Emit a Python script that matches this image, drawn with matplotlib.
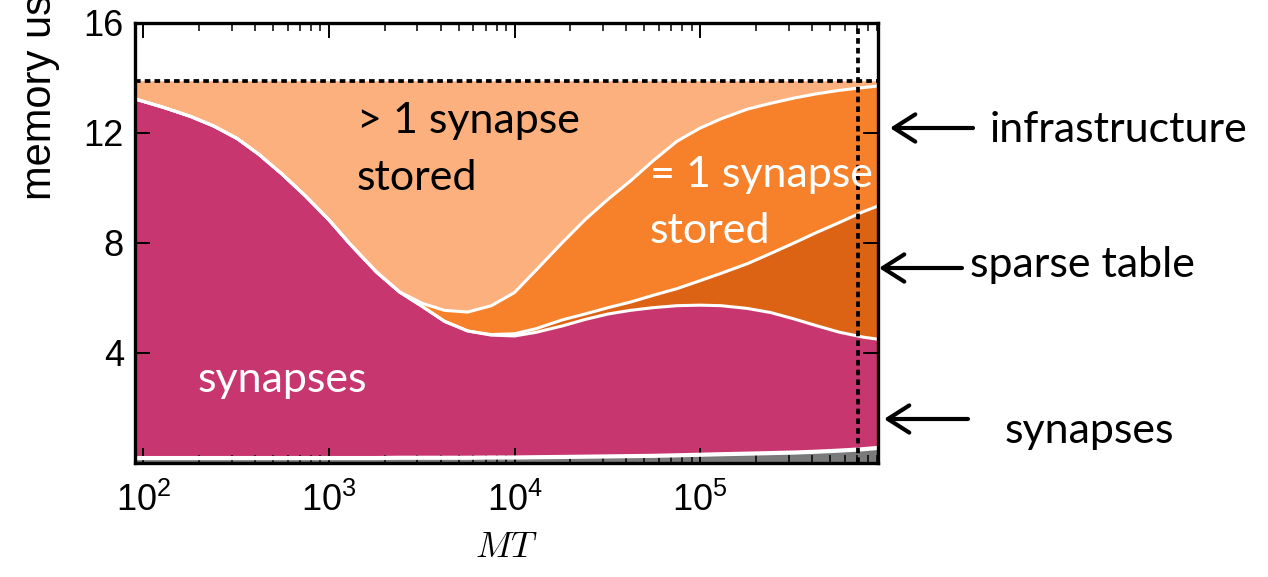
import numpy as np
import matplotlib
matplotlib.use("Agg")
import matplotlib.pyplot as plt
from matplotlib.patches import FancyArrowPatch

plt.rcParams.update({
    "font.family": ["Liberation Sans", "DejaVu Sans"],
    "font.size": 26,
    "mathtext.fontset": "cm",
})

# MT grid and cumulative layer tops (memory usage)
mt = [90, 100, 130, 180, 240, 320, 420, 560, 750, 1000, 1300, 1800, 2400, 3200, 4200, 5600,
      7500, 1e4, 1.3e4, 1.8e4, 2.4e4, 3.2e4, 4.2e4, 5.6e4, 7.5e4, 1e5, 1.3e5, 1.8e5, 2.4e5,
      3.2e5, 4.2e5, 5.6e5, 7.5e5, 9.1e5]
infra_top = [0.18, 0.18, 0.18, 0.18, 0.18, 0.18, 0.18, 0.18, 0.18, 0.18, 0.18, 0.18, 0.19, 0.19,
             0.19, 0.19, 0.2, 0.2, 0.21, 0.22, 0.23, 0.24, 0.25, 0.26, 0.28, 0.3, 0.32, 0.34,
             0.36, 0.38, 0.41, 0.45, 0.5, 0.55]
synapse_top = [13.24, 13.15, 12.92, 12.6, 12.25, 11.8, 11.22, 10.5, 9.7, 8.84, 7.96, 6.95,
               6.22, 5.68, 5.15, 4.8, 4.65, 4.62, 4.75, 4.98, 5.22, 5.42, 5.55, 5.65, 5.72,
               5.74, 5.72, 5.62, 5.47, 5.24, 5.0, 4.76, 4.58, 4.5]
sparse_top = [13.24, 13.15, 12.92, 12.6, 12.25, 11.8, 11.22, 10.5, 9.7, 8.84, 7.96, 6.95,
              6.22, 5.68, 5.15, 4.8, 4.67, 4.7, 4.88, 5.2, 5.42, 5.65, 5.85, 6.1, 6.34,
              6.63, 6.9, 7.25, 7.62, 8.0, 8.37, 8.74, 9.13, 9.35]
single_top = [13.24, 13.15, 12.92, 12.6, 12.25, 11.8, 11.22, 10.5, 9.7, 8.84, 7.96, 6.95,
              6.22, 5.8, 5.55, 5.49, 5.72, 6.2, 7.0, 8.0, 8.85, 9.6, 10.25, 11.0, 11.7,
              12.18, 12.52, 12.87, 13.08, 13.27, 13.42, 13.55, 13.65, 13.71]
total_mem = 13.9
mt_max = 7.1e5

C_INFRA = "#7a7a7a"
C_SYN = "#c8366f"
C_SPARSE = "#dc6214"
C_SINGLE = "#f7812b"
C_MULTI = "#fbb07e"

W, H = 1268, 577
fig = plt.figure(figsize=(W / 100, H / 100), dpi=100)
ax = fig.add_axes([135 / W, 1 - 463 / H, (878 - 135) / W, (463 - 23) / H])

x = np.array(mt)
tops = [np.zeros_like(x), np.array(infra_top), np.array(synapse_top),
        np.array(sparse_top), np.array(single_top), np.full_like(x, total_mem)]
colors = [C_INFRA, C_SYN, C_SPARSE, C_SINGLE, C_MULTI]
for lo, hi, c in zip(tops[:-1], tops[1:], colors):
    ax.fill_between(x, lo, hi, color=c, linewidth=0)
for i, t in enumerate(tops[1:-1]):
    ax.plot(x, t, color="white", linewidth=3.0 if i == 0 else 2.2, solid_joinstyle="round")

dash = (0, (1.5, 1.1))
ax.axhline(total_mem, color="black", linestyle=dash, linewidth=2.7)
ax.axvline(mt_max, color="black", linestyle=dash, linewidth=2.7)

ax.set_xscale("log")
ax.set_xlim(90.2, 9.08e5)
ax.set_ylim(0, 16)
ax.set_yticks([4, 8, 12, 16])
ax.tick_params(which="both", direction="in", top=True, right=True)
ax.tick_params(which="major", length=11, width=1.4, pad=8)
ax.tick_params(which="minor", length=6, width=1.1)
ax.tick_params(axis="x", which="major", pad=14)
for s in ax.spines.values():
    s.set_linewidth(2.4)
ax.set_xlabel("$MT$", fontsize=26, labelpad=8)

fig.text(40 / W, 1 - 200 / H, "memory usage (GB)", rotation=90, fontsize=30,
         ha="center", va="bottom")

calib = ["Lato", "DejaVu Sans"]
ax.text(1416, 12.0, "> 1 synapse", fontsize=31, family=calib, color="black", va="baseline")
ax.text(1416, 9.93, "stored", fontsize=31, family=calib, color="black", va="baseline")
ax.text(5.37e4, 10.04, "= 1 synapse", fontsize=31, family=calib, color="white", va="baseline")
ax.text(5.37e4, 8.0, "stored", fontsize=31, family=calib, color="white", va="baseline")
ax.text(195, 2.58, "synapses", fontsize=31, family=calib, color="white", va="baseline")

# annotations right of the axes: label, arrow y, arrow start, arrow tip, text x, baseline
notes = [("infrastructure", 128, 973, 890, 990, 142),
         ("sparse table", 268, 962, 879, 970, 277),
         ("synapses", 419, 968, 884, 1005, 443)]
for label, ypx, x0, x1, xt, yb in notes:
    fig.patches.append(FancyArrowPatch(
        (x0 / W, 1 - ypx / H), (x1 / W, 1 - ypx / H), transform=fig.transFigure,
        arrowstyle="->,head_length=0.55,head_width=0.35", color="black", linewidth=3.0,
        mutation_scale=28, shrinkA=0, shrinkB=0))
    fig.text(xt / W, 1 - yb / H, label, fontsize=31, family=calib, ha="left", va="baseline")

fig.savefig("out.png", dpi=100)
